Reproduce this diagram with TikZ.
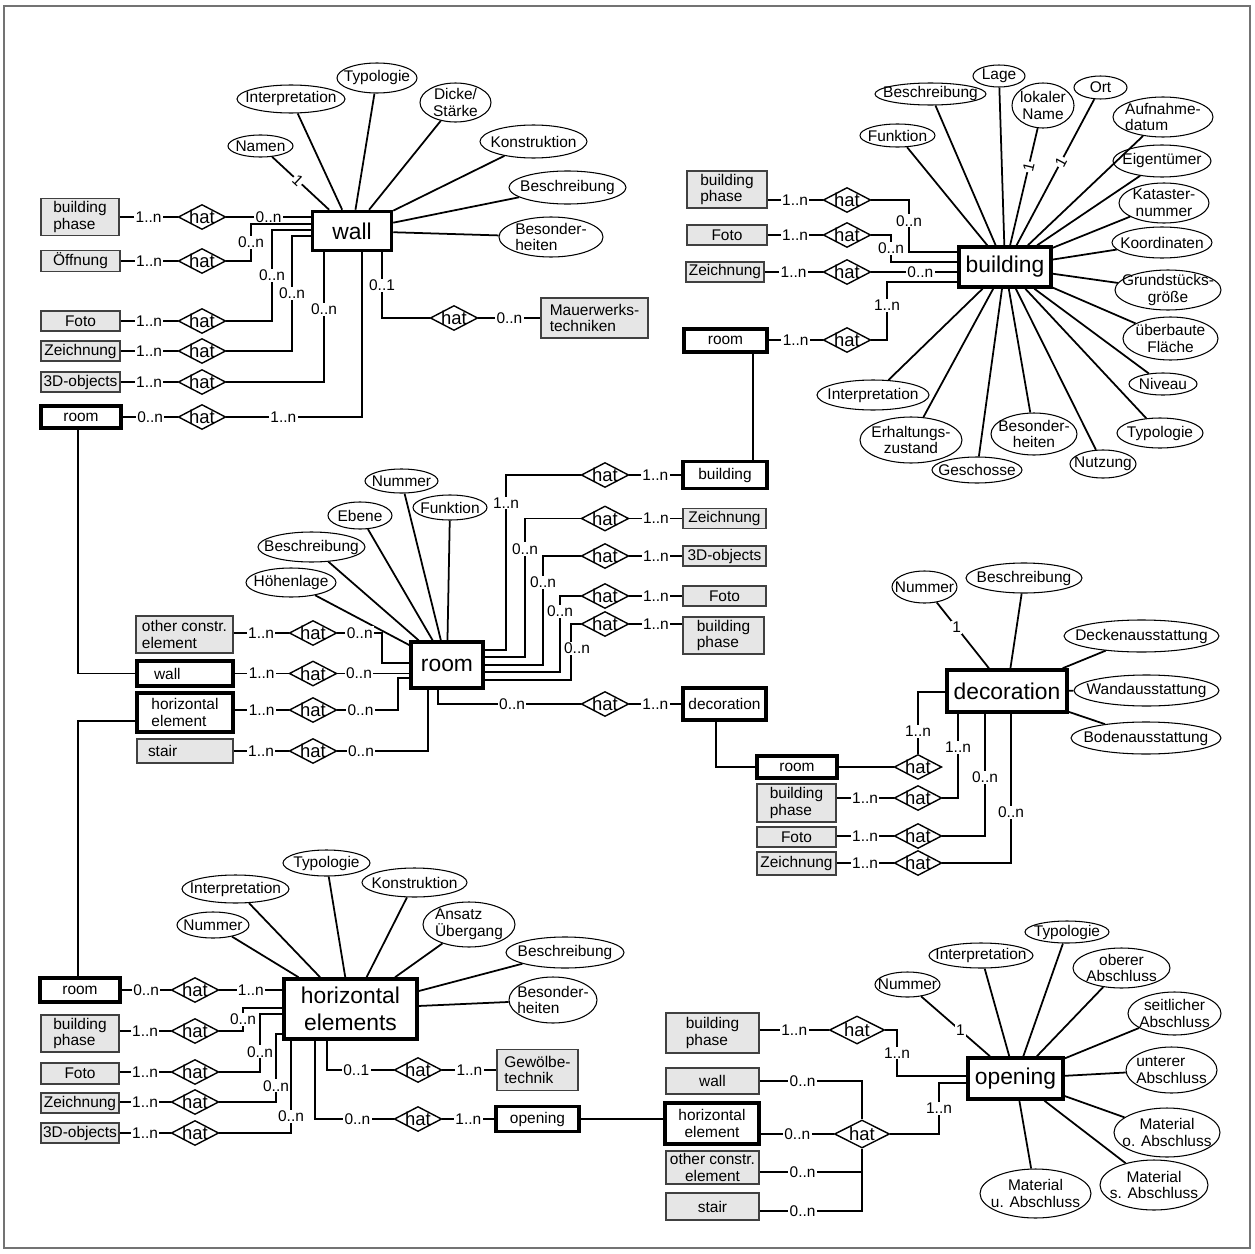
\documentclass[tikz,border=0pt]{standalone}
\usepackage{fontspec}
\setmainfont{Liberation Sans}
\usetikzlibrary{shapes.geometric}
\definecolor{boxgray}{RGB}{230,230,230}
\newcommand{\attrfont}{\fontsize{8.8}{9.6}\selectfont}
\newcommand{\entfont}{\fontsize{13}{15.5}\selectfont}
\newcommand{\relfont}{\fontsize{10.5}{11}\selectfont}
\tikzset{
wh/.style 2 args={minimum width=#1*0.02cm, minimum height=#2*0.02cm}, % size in pixels of the sketch
attr/.style={ellipse, draw, line width=0.6pt, fill=white, inner xsep=-3cm, inner ysep=-2cm, align=center, font=\attrfont}, % attributes
ent/.style={rectangle, draw, line width=2pt, fill=white, inner sep=0pt, align=center, font=\entfont}, % main entities
ref/.style={rectangle, draw, line width=2pt, fill=white, inner sep=0pt, align=center, font=\attrfont}, % linked entities
ext/.style={rectangle, draw=black!75, line width=0.7pt, fill=boxgray, inner sep=0pt, align=center, font=\attrfont}, % other tables
rel/.style={diamond, draw, line width=0.8pt, fill=white, inner sep=-1.5pt, aspect=2, minimum width=0.95cm, minimum height=0.5cm, font=\relfont}, % relations
card/.style={fill=white, inner xsep=0.8pt, inner ysep=0.6pt, font=\attrfont}, % cardinalities
one/.style={fill=white, inner sep=0.6pt, font=\attrfont}, % key marker
}

\begin{document}
\begin{tikzpicture}[x=0.02cm, y=-0.02cm, line width=1pt]
    \useasboundingbox (0,0) rectangle (1255,1254);
    \draw[black!55, line width=0.6pt] (4,6) rectangle (1250,1248);

    % wall
    \node[ent, wh={79}{39}] (wall) at (352,231) {wall};
    \node[attr, wh={65}{22}] (wnam) at (260.5,146) {Namen};
    \node[attr, wh={108}{28}] (wint) at (291,99) {Interpretation};
    \node[attr, wh={80}{30}] (wtyp) at (377,78) {Typologie};
    \node[attr, wh={71}{39}] (wdic) at (455.5,102.5) {Dicke/\\Stärke};
    \node[attr, wh={107}{33}] (wkon) at (533.5,141.5) {Konstruktion};
    \node[attr, wh={117}{33}] (wbes) at (567.5,187.5) {Beschreibung};
    \node[attr, wh={104}{40}, align=left] (wbhe) at (551,237) {Besonder-\\heiten};

    \node[ext, wh={78}{37}, align=left] (wbph) at (80,217) {building\\phase};
    \node[ext, wh={79}{21}] (woef) at (80.5,261) {Öffnung};
    \node[ext, wh={79}{20}] (wfot) at (80.5,321) {Foto};
    \node[ext, wh={79}{20}] (wzei) at (80.5,351) {Zeichnung};
    \node[ext, wh={79}{20}] (w3d) at (80.5,382) {3D-objects};
    \node[ref, wh={80}{22}] (wroom) at (81,417) {room};
    \node[ext, wh={107}{40}, align=left] (wmau) at (594.5,318) {Mauerwerks-\\techniken};
    \node[rel] (wh1) at (202,217) {hat};
    \node[rel] (wh2) at (202,261) {hat};
    \node[rel] (wh3) at (202,321) {hat};
    \node[rel] (wh4) at (202,351) {hat};
    \node[rel] (wh5) at (202,382) {hat};
    \node[rel] (wh6) at (202,417) {hat};
    \node[rel] (wh7) at (454,318) {hat};

    \draw (wall) edge node[one, sloped, pos=0.55] {1} (wnam)
    edge (wint) edge (wtyp) edge (wdic) edge (wkon) edge (wbes) edge (wbhe);
    \draw (wbph.east |- wh1) -- node[card] {1..n} (wh1) -- node[card] {0..n} (wall.west |- wh1);
    \draw (woef.east |- wh2) -- node[card] {1..n} (wh2) -| node[card, pos=0.75] {0..n} (251,224) -- (wall.west |- 0,224);
    \draw (wfot.east |- wh3) -- node[card] {1..n} (wh3) -| node[card, pos=0.75] {0..n} (272,230) -- (wall.west |- 0,230);
    \draw (wzei.east |- wh4) -- node[card] {1..n} (wh4) -| node[card, pos=0.75] {0..n} (292,236) -- (wall.west |- 0,236);
    \draw (w3d.east |- wh5) -- node[card] {1..n} (wh5) -| node[card, pos=0.78] {0..n} (wall.south -| 324,0);
    \draw (wroom.east |- wh6) -- node[card] {0..n} (wh6) -| node[card, pos=0.21] {1..n} (wall.south -| 362,0);
    \draw (wall.south -| 382,0) |- node[card, pos=0.25] {0..1} (wh7) -- node[card] {0..n} (wmau.west |- wh7);

    % building
    \node[ent, wh={92}{40}] (bld) at (1005,267) {building};
    \node[attr, wh={52}{22}] (blag) at (999,76) {Lage};
    \node[attr, wh={111}{22}] (bbes) at (930.5,94) {Beschreibung};
    \node[attr, wh={62}{45}] (blok) at (1043,105.5) {lokaler\\Name};
    \node[attr, wh={53}{23}] (bort) at (1100.5,87.5) {Ort};
    \node[attr, wh={100}{40}, align=left] (bauf) at (1163,117) {Aufnahme-\\datum};
    \node[attr, wh={75}{23}] (bfun) at (897.5,135.5) {Funktion};
    \node[attr, wh={98}{32}] (beig) at (1162,161) {Eigentümer};
    \node[attr, wh={90}{40}] (bkat) at (1164,203) {Kataster-\\nummer};
    \node[attr, wh={100}{31}] (bkoo) at (1162,242.5) {Koordinaten};
    \node[attr, wh={106}{40}] (bgru) at (1168,290) {Grundstücks-\\größe};
    \node[attr, wh={95}{43}] (bueb) at (1170.5,338.5) {überbaute\\Fläche};
    \node[attr, wh={68}{22}] (bniv) at (1163,384) {Niveau};
    \node[attr, wh={86}{30}] (btyp) at (1160,433) {Typologie};
    \node[attr, wh={66}{28}] (bnut) at (1103,464) {Nutzung};
    \node[attr, wh={86}{42}] (bbhe) at (1034,434) {Besonder-\\heiten};
    \node[attr, wh={90}{26}] (bges) at (977,470) {Geschosse};
    \node[attr, wh={102}{46}] (berh) at (911,440) {Erhaltungs-\\zustand};
    \node[attr, wh={112}{30}] (bint) at (873,395) {Interpretation};

    \node[ext, wh={80}{37}, align=left] (bbph) at (727,189.5) {building\\phase};
    \node[ext, wh={80}{20}] (bfot) at (727,235) {Foto};
    \node[ext, wh={78}{20}] (bzei) at (725,272) {Zeichnung};
    \node[ref, wh={83}{23}] (broom) at (725.5,340.5) {room};
    \node[rel] (bh1) at (847,200) {hat};
    \node[rel] (bh2) at (847,235) {hat};
    \node[rel] (bh3) at (847,272) {hat};
    \node[rel] (bh4) at (847,340) {hat};

    \draw (bld) edge (blag) edge (bbes)
    edge node[one, sloped, pos=0.67] {1} (blok)
    edge node[one, sloped, pos=0.57] {1} (bort)
    edge (bauf) edge (bfun) edge (beig) edge (bkat) edge (bkoo) edge (bgru) edge (bueb)
    edge (bniv) edge (btyp) edge (bnut) edge (bbhe) edge (bges) edge (berh) edge (bint);
    \draw (bbph.east |- bh1) -- node[card] {1..n} (bh1) -| node[card, pos=0.7] {0..n} (909,252) -- (bld.west |- 0,252);
    \draw (bfot.east |- bh2) -- node[card] {1..n} (bh2) -| node[card, pos=0.75] {0..n} (891,262) -- (bld.west |- 0,262);
    \draw (bzei.east |- bh3) -- node[card] {1..n} (bh3) -- node[card, pos=0.57] {0..n} (bld.west |- bh3);
    \draw (broom.east |- bh4) -- node[card] {1..n} (bh4) -| node[card, pos=0.8] {1..n} (887,282) -- (bld.west |- 0,282);

    % room
    \node[ent, wh={72}{46}] (room) at (447,665) {room};
    \node[attr, wh={73}{24}] (rnum) at (401.5,481) {Nummer};
    \node[attr, wh={64}{27}] (reb) at (360,515.5) {Ebene};
    \node[attr, wh={74}{25}] (rfun) at (450,507.5) {Funktion};
    \node[attr, wh={107}{30}] (rbes) at (311.5,547) {Beschreibung};
    \node[attr, wh={90}{29}] (rhoe) at (291,582.5) {Höhenlage};

    \node[ext, wh={97}{37}, align=left] (roce) at (184.5,634.5) {other constr.\\element};
    \node[ref, wh={96}{25}, text width=1.24cm, align=left] (rwall) at (185,673.5) {wall};
    \node[ref, wh={96}{39}, align=left] (rhel) at (185,712.5) {horizontal\\element};
    \node[ext, wh={96}{24}, text width=1.48cm, align=left] (rsta) at (185,751) {stair};
    \node[ref, wh={84}{27}] (rbld) at (725,475) {building};
    \node[ext, wh={83}{20}] (rzei) at (724.5,518.5) {Zeichnung};
    \node[ext, wh={83}{20}] (r3d) at (724.5,556) {3D-objects};
    \node[ext, wh={83}{20}] (rfot) at (724.5,596) {Foto};
    \node[ext, wh={81}{37}, align=left] (rbph) at (723.5,635.5) {building\\phase};
    \node[ref, wh={83}{32}] (rdec) at (724.5,704) {decoration};
    \node[rel] (rh1) at (313,633) {hat};
    \node[rel] (rh2) at (313,673.5) {hat};
    \node[rel] (rh3) at (313,710) {hat};
    \node[rel] (rh4) at (313,751) {hat};
    \node[rel] (rh5) at (605,475) {hat};
    \node[rel] (rh6) at (605,518.5) {hat};
    \node[rel] (rh7) at (605,556) {hat};
    \node[rel] (rh8) at (605,596) {hat};
    \node[rel] (rh9) at (605,624) {hat};
    \node[rel] (rh10) at (605,704) {hat};

    \draw (room) edge (rnum) edge (reb) edge (rfun) edge (rbes) edge (rhoe);
    \draw (roce.east |- rh1) -- node[card] {1..n} (rh1) -| node[card, pos=0.25] {0..n} (382,663) -- (room.west |- 0,663);
    \draw (rwall.east |- rh2) -- node[card] {1..n} (rh2) -- node[card, pos=0.3] {0..n} (room.west |- rh2);
    \draw (rhel.east |- rh3) -- node[card] {1..n} (rh3) -| node[card, pos=0.19] {0..n} (398,678) -- (room.west |- 0,678);
    \draw (rsta.east |- rh4) -- node[card] {1..n} (rh4) -| node[card, pos=0.13] {0..n} (room.south -| 428,0);
    \draw (room.east |- 0,650) -| node[card, pos=0.92] {1..n} (506,475) -- (rh5) -- node[card] {1..n} (rbld);
    \draw (room.east |- 0,657) -| node[card, pos=0.89] {0..n} (525,518.5) -- (rh6) -- node[card] {1..n} (rzei);
    \draw (room.east |- 0,665) -| node[card, pos=0.88] {0..n} (543,556) -- (rh7) -- node[card] {1..n} (r3d);
    \draw (room.east |- 0,672) -| node[card, pos=0.9] {0..n} (560,596) -- (rh8) -- node[card] {1..n} (rfot);
    \draw (room.east |- 0,680) -| node[card, pos=0.78, xshift=0.12cm] {0..n} (571,624) -- (rh9) -- node[card] {1..n} (rbph.west |- rh9);
    \draw (room.south -| 438,0) |- node[card, pos=0.76] {0..n} (rh10) -- node[card] {1..n} (rdec);
    \draw (broom.south -| 753,0) -- (rbld.north -| 753,0);
    \draw (wroom.south -| 78,0) |- (rwall);

    % decoration
    \node[ent, wh={120}{42}] (deco) at (1007,691) {decoration};
    \node[attr, wh={65}{32}] (dnum) at (924.5,587) {Nummer};
    \node[attr, wh={116}{30}] (dbes) at (1024,578) {Beschreibung};
    \node[attr, wh={155}{32}] (ddec) at (1141.5,636) {Deckenausstattung};
    \node[attr, wh={145}{31}] (dwan) at (1146.5,690.5) {Wandausstattung};
    \node[attr, wh={150}{32}] (dbod) at (1146,738) {Bodenausstattung};

    \node[ref, wh={80}{22}] (droom) at (797,767) {room};
    \node[ext, wh={79}{38}, align=left] (dbph) at (796.5,803) {building\\phase};
    \node[ext, wh={79}{20}] (dfot) at (796.5,837) {Foto};
    \node[ext, wh={79}{23}] (dzei) at (796.5,863.5) {Zeichnung};
    \node[rel] (dh1) at (918,767) {hat};
    \node[rel] (dh2) at (918,798) {hat};
    \node[rel] (dh3) at (918,836) {hat};
    \node[rel] (dh4) at (918,863) {hat};

    \draw (deco) edge node[one, pos=0.62] {1} (dnum) edge (dbes) edge (ddec) edge (dwan) edge (dbod);
    \draw (rdec.south -| 716,0) |- (droom);
    \draw (droom) -- (dh1) |- node[card, pos=0.18] {1..n} (deco.west |- 0,692);
    \draw (dbph.east |- dh2) -- node[card] {1..n} (dh2) -| node[card, pos=0.8] {1..n} (deco.south -| 958,0);
    \draw (dfot.east |- dh3) -- node[card] {1..n} (dh3) -| node[card, pos=0.74] {0..n} (deco.south -| 985,0);
    \draw (dzei.east |- dh4) -- node[card] {1..n} (dh4) -| node[card, pos=0.67] {0..n} (deco.south -| 1011,0);

    % horizontal elements
    \node[ent, wh={133}{60}] (hel) at (350.5,1009) {horizontal\\elements};
    \node[attr, wh={72}{26}] (hnum) at (213,925) {Nummer};
    \node[attr, wh={107}{28}] (hint) at (235.5,889) {Interpretation};
    \node[attr, wh={87}{26}] (htyp) at (326.5,863) {Typologie};
    \node[attr, wh={105}{29}] (hkon) at (414.5,882.5) {Konstruktion};
    \node[attr, wh={92}{45}, align=left] (hans) at (469,924.5) {Ansatz\\Übergang};
    \node[attr, wh={118}{31}] (hbes) at (565,952.5) {Beschreibung};
    \node[attr, wh={88}{46}, align=left] (hbhe) at (553,1000) {Besonder-\\heiten};

    \node[ref, wh={80}{24}] (hroom) at (80,990) {room};
    \node[ext, wh={78}{37}, align=left] (hbph) at (80,1033.5) {building\\phase};
    \node[ext, wh={78}{21}] (hfot) at (80,1073.5) {Foto};
    \node[ext, wh={78}{20}] (hzei) at (80,1103) {Zeichnung};
    \node[ext, wh={78}{20}] (h3d) at (80,1133) {3D-objects};
    \node[ext, wh={81}{41}, align=left] (hgew) at (537.5,1070) {Gewölbe-\\technik};
    \node[ref, wh={83}{25}] (hopn) at (537.5,1119) {opening};
    \node[rel] (hh1) at (195,990) {hat};
    \node[rel] (hh2) at (195,1031) {hat};
    \node[rel] (hh3) at (195,1072) {hat};
    \node[rel] (hh4) at (195,1102) {hat};
    \node[rel] (hh5) at (195,1133) {hat};
    \node[rel] (hh6) at (418,1070) {hat};
    \node[rel] (hh7) at (418,1119) {hat};

    \draw (hel) edge (hnum) edge (hint) edge (htyp) edge (hkon) edge (hans) edge (hbes) edge (hbhe);
    \draw (rhel.west |- 0,721) -| (hroom.north -| 78,0);
    \draw (hroom) -- node[card] {0..n} (hh1) -- node[card] {1..n} (hel.west |- hh1);
    \draw (hbph.east |- hh2) -- node[card] {1..n} (hh2) -| node[card, pos=0.75] {0..n} (243,1008) -- (hel.west |- 0,1008);
    \draw (hfot.east |- hh3) -- node[card] {1..n} (hh3) -| node[card, pos=0.675] {0..n} (260,1014) -- (hel.west |- 0,1014);
    \draw (hzei.east |- hh4) -- node[card] {1..n} (hh4) -| node[card, pos=0.62] {0..n} (276,1034) -- (hel.west |- 0,1034);
    \draw (h3d.east |- hh5) -- node[card] {1..n} (hh5) -| node[card, pos=0.59] {0..n} (hel.south -| 291,0);
    \draw (hel.south -| 327,0) |- node[card, pos=0.72] {0..1} (hh6) -- node[card] {1..n} (hgew);
    \draw (hel.south -| 315,0) |- node[card, pos=0.77] {0..n} (hh7) -- node[card] {1..n} (hopn);

    % opening
    \node[ent, wh={95}{41}] (opn) at (1015.5,1078.5) {opening};
    \node[attr, wh={65}{25}] (onum) at (907.5,984.5) {Nummer};
    \node[attr, wh={104}{25}] (oint) at (981,955.5) {Interpretation};
    \node[attr, wh={84}{22}] (otyp) at (1067,932) {Typologie};
    \node[attr, wh={97}{40}] (oobe) at (1121.5,968) {oberer\\Abschluss};
    \node[attr, wh={93}{43}] (osei) at (1174.5,1013.5) {seitlicher\\Abschluss};
    \node[attr, wh={91}{46}, align=left] (ount) at (1171.5,1070) {unterer\\Abschluss};
    \node[attr, wh={106}{49}] (omao) at (1167,1132.5) {Material\\o. Abschluss};
    \node[attr, wh={108}{50}] (omas) at (1154,1185) {Material\\s. Abschluss};
    \node[attr, wh={111}{49}] (omau) at (1035.5,1193.5) {Material\\u. Abschluss};

    \node[ext, wh={93}{40}, align=left] (obph) at (712.5,1033) {building\\phase};
    \node[ext, wh={93}{26}] (owal) at (712.5,1081) {wall};
    \node[ref, wh={94}{41}] (oheo) at (712,1123.5) {horizontal\\element};
    \node[ext, wh={93}{33}] (ooce) at (712.5,1167.5) {other constr.\\element};
    \node[ext, wh={93}{27}] (osta) at (712.5,1206.5) {stair};
    \node[rel, wh={55}{28}] (oh1) at (857,1030) {hat};
    \node[rel, wh={55}{28}] (oh2) at (862,1134) {hat};

    \draw (opn) edge node[one, pos=0.43] {1} (onum) edge (oint) edge (otyp) edge (oobe) edge (osei)
    edge (ount) edge (omao) edge (omas) edge (omau);
    \draw (hopn) -- (oheo.west |- hopn);
    \draw (obph.east |- oh1) -- node[card] {1..n} (oh1) -| node[card, pos=0.75] {1..n} (897,1076) -- (opn.west |- 0,1076);
    \draw (owal) -| node[card, pos=0.21] {0..n} (oh2);
    \draw (oheo.east |- oh2) -- node[card] {0..n} (oh2);
    \draw (ooce.east |- 0,1172) -| node[card, pos=0.21] {0..n} (oh2);
    \draw (osta.east |- 0,1211) -| node[card, pos=0.21] {0..n} (oh2);
    \draw (oh2) -| node[card, pos=0.75] {1..n} (939,1083) -- (opn.west |- 0,1083);

  \end{tikzpicture}
\end{document}
